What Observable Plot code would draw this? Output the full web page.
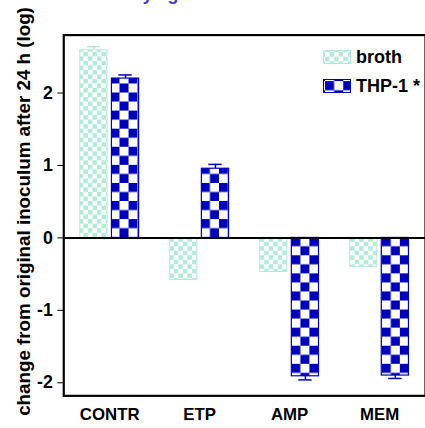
<!DOCTYPE html>
<html>
<head>
<meta charset="utf-8">
<script src="https://cdn.jsdelivr.net/npm/d3@7"></script>
<script src="https://cdn.jsdelivr.net/npm/@observablehq/plot@0.6"></script>
<style>
  html, body { margin: 0; padding: 0; background: #fff; overflow: hidden; }
  #wrap { position: relative; width: 425px; height: 428px; overflow: hidden; }
  #legend { position: absolute; left: 323px; top: 49px; font: bold 18px "Liberation Sans", Arial, sans-serif; color: #000; }
  #legend .row { display: flex; align-items: center; height: 16px; margin-bottom: 13px; }
  #legend svg { margin-right: 5px; }
</style>
</head>
<body>
<div id="wrap"></div>
<script>
const categories = ["CONTR", "ETP", "AMP", "MEM"];
const series = ["broth", "THP-1 *"];
const broth = [2.59, -0.58, -0.47, -0.40];
const brothErr = [0.05, 0, 0, 0];
const thp = [2.20, 0.955, -1.91, -1.90];
const thpErr = [0.05, 0.06, 0.05, 0.04];
const yTicks = [-2, -1, 0, 1, 2];
const yLabel = "change from original inoculum after 24 h (log)";
const title = "Intracellular activity against S. aureus in THP-1 macrophages";

const blue = "#0000bb";
const mint = "#b3ebd7";
const font = '"Liberation Sans", Arial, sans-serif';

const W = 430, H = 428, mL = 64, mR = 0, mT = 35, mB = 28;
const bw = (W - mL - mR) / categories.length;
const barW = 28, gap = 4, capW = 14;
const off = (bw - (2 * barW + gap)) / 2;
const half = (barW + gap) / 2;

const brothRows = categories.map((c, i) => ({cat: c, v: broth[i], e: brothErr[i]}));
const thpRows = categories.map((c, i) => ({cat: c, v: thp[i], e: thpErr[i]}));
const errEnd = d => d.v + Math.sign(d.v) * d.e;

const chart = Plot.plot({
  width: W, height: H,
  marginLeft: mL, marginRight: mR, marginTop: mT, marginBottom: mB,
  style: {fontFamily: font, fontSize: "18px", fontWeight: "bold", color: "#000", background: "transparent"},
  x: {domain: categories, padding: 0, label: null, tickSize: 0, tickPadding: 12},
  y: {domain: [-2.18, 2.8], ticks: yTicks, tickSize: 6, tickPadding: 5, label: null, tickFormat: d => String(d)},
  marks: [
    Plot.barY(brothRows, {x: "cat", y: "v", fill: "url(#brothPat)", stroke: mint, strokeWidth: 1,
      insetLeft: off, insetRight: bw - off - barW}),
    Plot.barY(thpRows, {x: "cat", y: "v", fill: "url(#thpPat)", stroke: blue, strokeWidth: 1.2,
      insetLeft: off + barW + gap, insetRight: off}),
    Plot.ruleX(brothRows.filter(d => d.e > 0), {x: "cat", y1: "v", y2: errEnd, dx: -half, stroke: mint, strokeWidth: 1.5}),
    Plot.tickY(brothRows.filter(d => d.e > 0), {x: "cat", y: errEnd, stroke: mint, strokeWidth: 1.5,
      insetLeft: bw / 2 - half - capW / 2, insetRight: bw / 2 + half - capW / 2}),
    Plot.ruleX(thpRows.filter(d => d.e > 0), {x: "cat", y1: "v", y2: errEnd, dx: half, stroke: blue, strokeWidth: 1.5}),
    Plot.tickY(thpRows.filter(d => d.e > 0), {x: "cat", y: errEnd, stroke: blue, strokeWidth: 1.5,
      insetLeft: bw / 2 + half - capW / 2, insetRight: bw / 2 - half - capW / 2}),
    Plot.ruleY([0], {stroke: "#000", strokeWidth: 2}),
    Plot.frame({stroke: "#000", strokeWidth: 2.2})
  ]
});

// patterns
const svg = d3.select(chart.tagName.toLowerCase() === "svg" ? chart : chart.querySelector("svg"));
svg.selectAll("[aria-label='x-axis tick label'] text, [aria-label='x-axis tick label']").style("font-size", "17px");
const defs = svg.insert("defs", ":first-child");
const bc = bw / 20;
const pb = defs.append("pattern").attr("id", "brothPat").attr("patternUnits", "userSpaceOnUse")
  .attr("width", 2 * bc).attr("height", 2 * bc).attr("x", mL + off).attr("y", 240);
pb.append("rect").attr("width", 2 * bc).attr("height", 2 * bc).attr("fill", "#fff");
pb.append("rect").attr("width", bc).attr("height", bc).attr("fill", mint);
pb.append("rect").attr("x", bc).attr("y", bc).attr("width", bc).attr("height", bc).attr("fill", mint);
const tc = bw / 10;
const pt = defs.append("pattern").attr("id", "thpPat").attr("patternUnits", "userSpaceOnUse")
  .attr("width", 2 * tc).attr("height", 2 * tc).attr("x", mL + off + barW + gap).attr("y", 240);
pt.append("rect").attr("width", 2 * tc).attr("height", 2 * tc).attr("fill", "#fff");
pt.append("rect").attr("width", tc).attr("height", tc).attr("fill", blue);
pt.append("rect").attr("x", tc).attr("y", tc).attr("width", tc).attr("height", tc).attr("fill", blue);

// y-axis label
svg.append("text").attr("transform", "translate(30,214) rotate(-90)").attr("text-anchor", "middle")
  .attr("fill", "#000").style("font", `bold 19px ${font}`).text(yLabel);

// clipped title
svg.append("text").attr("x", (mL + W) / 2).attr("y", 0).attr("text-anchor", "middle")
  .attr("fill", "#3b3bd9").style("font", `bold 18px ${font}`).text(title);

const wrap = document.getElementById("wrap");
wrap.appendChild(chart);

// legend
const legend = document.createElement("div");
legend.id = "legend";
const pats = ["brothPat", "thpPat"];
const strokes = [mint, blue];
series.forEach((s, i) => {
  const row = document.createElement("div");
  row.className = "row";
  row.innerHTML = `<svg width="28" height="14"><rect x="0.5" y="0.5" width="27" height="13" fill="url(#${pats[i]})" stroke="${strokes[i]}" stroke-width="1"></rect></svg><span>${s}</span>`;
  legend.appendChild(row);
});
wrap.appendChild(legend);
</script>
</body>
</html>
